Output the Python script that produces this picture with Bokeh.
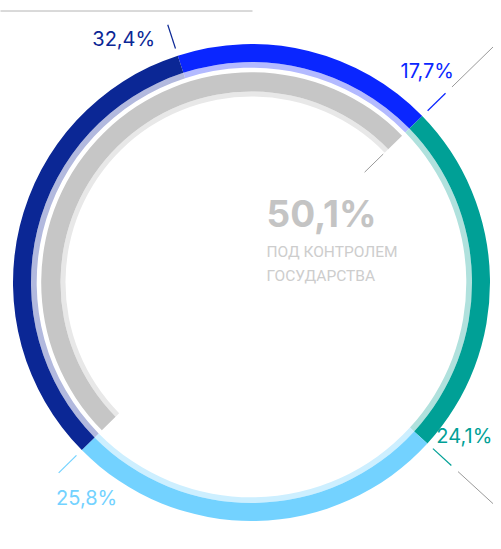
import numpy as np
from bokeh.plotting import figure
from bokeh.models import ColumnDataSource, Range1d
from bokeh.core.properties import value
from bokeh.embed import file_html
from bokeh.resources import INLINE

# ---- data (clockwise order, starting at the top) ----
shares = [17.7, 24.1, 25.8, 32.4]
labels = ["17,7%", "24,1%", "25,8%", "32,4%"]
state_share = 50.1          # = 32,4 + 17,7 (inner grey arc)
state_label = "50,1%"
state_caption = ["ПОД КОНТРОЛЕМ", "ГОСУДАРСТВА"]

# ---- styles ----
colors = ["#0a26ff", "#00a096", "#73d2ff", "#0b2795"]
strip_colors = ["#b3baff", "#b0e1dd", "#cdefff", "#b2b9de"]
GREY, GREY_LIGHT = "#c6c6c6", "#e8e8e8"
FONT = value("Inter")

# geometry (pixels, 1 data unit = 1 px)
R_OUT, R_MID, R_STRIP = 238.5, 220.5, 214.8
R_G_OUT, R_G_MID, R_G_IN = 210.3, 191.0, 186.0
START = -18.0   # clockwise degrees from 12 o'clock where the first segment starts

W, H = 493, 541
p = figure(width=W, height=H, output_backend="svg", toolbar_location=None,
           x_axis_location=None, y_axis_location=None,
           x_range=Range1d(-251, 242), y_range=Range1d(282 - H, 282),
           min_border=0, outline_line_color=None, background_fill_color="white",
           border_fill_color="white")
p.grid.visible = False


def rad(theta_cw):
    """clockwise-from-top degrees -> bokeh angle (radians, ccw from +x)"""
    return np.deg2rad(90.0 - np.asarray(theta_cw, dtype=float))


def polar(r, theta_cw):
    t = np.deg2rad(np.asarray(theta_cw, dtype=float))
    return r * np.sin(t), r * np.cos(t)


total = sum(shares)
bounds = START + np.concatenate([[0], np.cumsum(shares)]) / total * 360.0
t0, t1 = bounds[:-1], bounds[1:]

src = ColumnDataSource(dict(start=rad(t1), end=rad(t0), color=colors,
                            strip=strip_colors, label=labels))

# inner grey arc: begins where the last segment begins, spans state_share
g0 = t0[-1]
g1 = g0 + state_share / 100.0 * 360.0
p.annular_wedge(x=0, y=0, inner_radius=R_G_IN, outer_radius=R_G_MID,
                start_angle=rad(g1), end_angle=rad(g0), color=GREY_LIGHT, line_color=None)
p.annular_wedge(x=0, y=0, inner_radius=R_G_MID, outer_radius=R_G_OUT,
                start_angle=rad(g1), end_angle=rad(g0), color=GREY, line_color=None)

# outer ring
p.annular_wedge(x=0, y=0, inner_radius=R_STRIP, outer_radius=R_MID,
                start_angle="start", end_angle="end", fill_color="strip",
                line_color=None, source=src)
p.annular_wedge(x=0, y=0, inner_radius=R_MID, outer_radius=R_OUT,
                start_angle="start", end_angle="end", fill_color="color",
                line_color=None, source=src)

# coloured ticks at the end of each segment
x0, y0 = polar(246, t1)
x1, y1 = polar(271, t1)
p.segment(x0=x0, y0=y0, x1=x1, y1=y1, line_color=colors, line_width=1.2)

# grey leader lines
lead = t1[:2]
lx0, ly0 = polar(280, lead)
lx1, ly1 = polar(430, lead)
p.segment(x0=lx0, y0=ly0, x1=lx1, y1=ly1, line_color="#9a9a9a", line_width=1)
ix0, iy0 = polar(158, g1)
ix1, iy1 = polar(184, g1)
p.segment(x0=[ix0], y0=[iy0], x1=[ix1], y1=[iy1], line_color="#9a9a9a", line_width=1)

# decorative rule at the top
p.segment(x0=[-R_OUT - 30], y0=[R_OUT + 33], x1=[1], y1=[R_OUT + 33],
          line_color="#b4b4b4", line_width=1)

# percentage labels, anchored at the outer end of each tick
lab = ColumnDataSource(dict(
    x=x1, y=y1, text=labels, color=colors,
    align=["center", "left", "center", "right"],
    dx=[-18.3, -15.0, 28.0, -12.6],
    dy=[-21.9, -29.5, 25.0, 14.5],
))
p.text(x="x", y="y", text="text", source=lab, text_color="color",
       text_align="align", text_baseline="alphabetic",
       x_offset="dx", y_offset="dy",
       text_font=FONT, text_font_size="20px")

# centre texts
p.text(x=[15], y=[69], text=[state_label], text_color="#c4c4c4",
       text_font=FONT, text_font_size="37px", text_font_style="bold",
       text_baseline="alphabetic", text_align="left")
p.text(x=[15, 15], y=[31, 7], text=state_caption, text_color="#cdcdcd",
       text_font=value("Roboto"), text_font_size="15.5px",
       text_baseline="alphabetic", text_align="left")

open("out.html", "w").write(file_html(p, INLINE))
